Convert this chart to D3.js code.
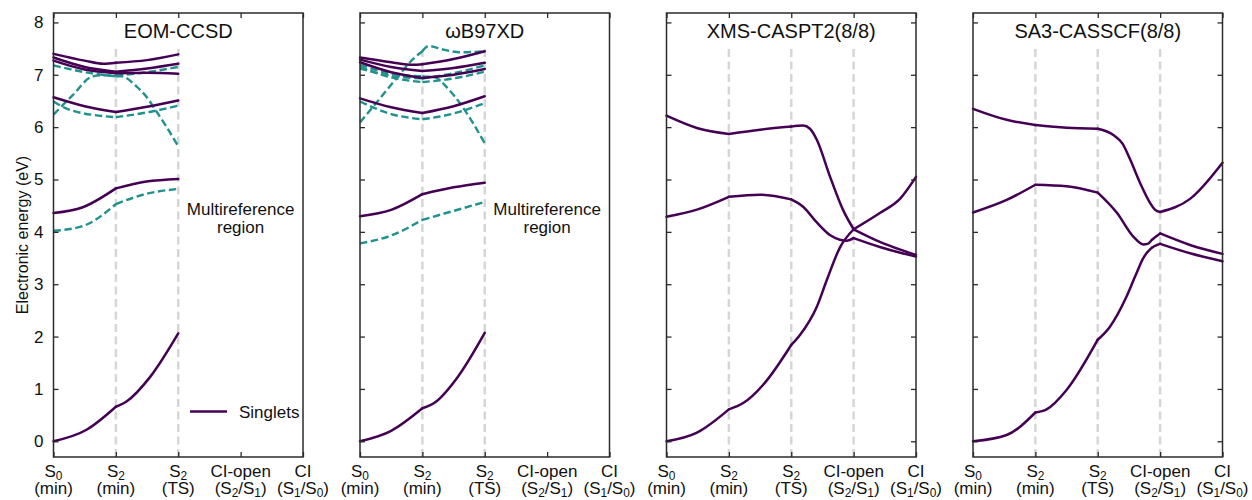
<!DOCTYPE html>
<html>
<head>
<meta charset="utf-8">
<script src="https://cdn.jsdelivr.net/npm/d3@7"></script>
<style>
  html, body { margin: 0; padding: 0; background: #fff; }
  svg { display: block; font-family: "Liberation Sans", Arial, Helvetica, sans-serif; }
</style>
</head>
<body>
<svg id="chart" width="1252" height="500"></svg>
<script>
// Reaction-path stops along the horizontal axis (two-line labels, "_n" = subscript)
const stopLabels = [
  ["S_0", "(min)"],
  ["S_2", "(min)"],
  ["S_2", "(TS)"],
  ["CI-open", "(S_2/S_1)"],
  ["CI", "(S_1/S_0)"]
];
const energyTicks = [0, 1, 2, 3, 4, 5, 6, 7, 8];
const methods = ["EOM-CCSD", "ωB97XD", "XMS-CASPT2(8/8)", "SA3-CASSCF(8/8)"];

// Singlet (solid) and triplet (dashed) energies, [path coordinate, eV]
const eomSinglets = [
  [[0,0],[0.53,0.22],[1,0.66],[1.17,0.76],[1.55,1.23],[2,2.06]],
  [[0,4.36],[0.47,4.47],[1,4.83],[1.49,4.96],[2,5.01]],
  [[0,6.57],[0.5,6.40],[1,6.29],[1.5,6.39],[2,6.51]],
  [[0,7.27],[0.5,7.10],[1,7.03],[1.5,7.04],[2,7.02]],
  [[0,7.33],[0.5,7.15],[1,7.06],[1.5,7.12],[2,7.21]],
  [[0,7.40],[0.5,7.27],[0.8,7.21],[1,7.23],[1.5,7.28],[2,7.39]]
];
const eomTriplets = [
  [[0,4.02],[0.47,4.11],[1,4.53],[1.5,4.73],[2,4.82]],
  [[0,6.49],[0.26,6.33],[1,6.19],[1.54,6.29],[2,6.41]],
  [[0,6.24],[0.3,6.6],[0.63,6.97],[0.8,6.99],[1,6.98],[1.5,7.05],[2,7.15]],
  [[0,7.18],[0.5,7.05],[1,6.97],[1.09,6.97],[1.33,6.78],[1.49,6.58],[1.65,6.30],[1.81,6.01],[2,5.63]]
];

const wbSinglets = [
  [[0,0],[0.5,0.2],[1,0.63],[1.2,0.74],[1.55,1.2],[2,2.07]],
  [[0,4.30],[0.5,4.42],[1,4.72],[1.5,4.85],[2,4.94]],
  [[0,6.55],[0.5,6.38],[1,6.27],[1.5,6.40],[2,6.59]],
  [[0,7.24],[0.5,7.05],[1,6.94],[1.5,7.00],[2,7.11]],
  [[0,7.29],[0.5,7.15],[1,7.07],[1.5,7.13],[2,7.23]],
  [[0,7.33],[0.5,7.24],[0.85,7.19],[1,7.20],[1.5,7.30],[2,7.45]]
];
const wbTriplets = [
  [[0,3.78],[0.5,3.93],[1,4.23],[1.5,4.40],[2,4.57]],
  [[0,6.49],[0.5,6.25],[1,6.15],[1.5,6.26],[2,6.46]],
  [[0,6.09],[0.3,6.52],[0.59,6.94],[0.85,7.3],[1,7.45],[1.1,7.55],[1.34,7.48],[1.6,7.43],[2,7.45]],
  [[0,7.19],[0.5,7.02],[1,6.97],[1.2,6.95],[1.4,6.75],[1.6,6.46],[1.8,6.1],[2,5.69]],
  [[0,7.15],[0.5,6.95],[1,6.86],[1.5,6.93],[2,7.06]],
  [[0,7.12],[0.5,6.98],[1,6.93],[1.5,7.03],[2,7.18]]
];

const casptSinglets = [
  [[0,0],[0.48,0.16],[1,0.61],[1.23,0.73],[1.55,1.08],[2,1.84],[2.14,2.03],[2.41,2.57],[2.57,3.08],[2.78,3.70],[3,4.05],[3.42,3.81],[3.75,3.66],[4,3.56]],
  [[0,4.29],[0.5,4.43],[1,4.67],[1.5,4.71],[2,4.62],[2.19,4.48],[2.41,4.18],[2.62,3.94],[2.78,3.85],[2.89,3.83],[3,3.88],[3.42,3.71],[3.75,3.60],[4,3.53]],
  [[0,6.22],[0.5,5.98],[1,5.87],[1.5,5.95],[2,6.01],[2.19,6.03],[2.3,5.97],[2.41,5.76],[2.62,5.06],[2.83,4.42],[3,4.05],[3.42,4.36],[3.75,4.64],[4,5.05]]
];

const casscfSinglets = [
  [[0,0],[0.54,0.12],[1,0.55],[1.18,0.61],[1.5,0.98],[2,1.94],[2.19,2.18],[2.46,2.76],[2.6,3.15],[2.73,3.50],[2.85,3.68],[3,3.77],[3.48,3.59],[4,3.44]],
  [[0,4.37],[0.54,4.61],[1,4.90],[1.5,4.87],[2,4.75],[2.31,4.36],[2.57,3.91],[2.73,3.76],[2.8,3.77],[2.87,3.85],[3,3.97],[3.48,3.75],[4,3.58]],
  [[0,6.35],[0.54,6.14],[1,6.04],[1.5,5.99],[2,5.97],[2.25,5.85],[2.4,5.68],[2.52,5.38],[2.68,4.93],[2.84,4.55],[2.92,4.42],[3,4.38],[3.48,4.63],[4,5.32]]
];

const panelSinglets = [eomSinglets, wbSinglets, casptSinglets, casscfSinglets];
const panelTriplets = [eomTriplets, wbTriplets, [], []];
const panelGuides = [[1, 2], [1, 2], [1, 2, 3], [1, 2, 3]];
const singleRefPanels = [0, 1];

const purple = "#440154";
const teal = "#21918c";
const frameColor = "#2b2b2b";

const svg = d3.select("#chart");
const panelLeft = [53.5, 360, 666.5, 973];
const panelW = 249.5;
const plotTop = 13, plotBottom = 457;

const y = d3.scaleLinear().domain([-0.3, 8.18]).range([plotBottom, plotTop]);

// Append one line of a label; "_n" becomes a lowered, smaller digit
function richLine(textSel, str, size, xPos, yPos) {
  const parts = str.split(/(_\d)/).filter(p => p.length);
  let lowered = false;
  parts.forEach((p, idx) => {
    let t;
    if (p[0] === "_") {
      t = textSel.append("tspan").attr("font-size", size * 0.7).attr("dy", 3).text(p[1]);
      lowered = true;
    } else {
      t = textSel.append("tspan").text(p);
      if (lowered) { t.attr("dy", -3); lowered = false; }
    }
    if (idx === 0) t.attr("x", xPos).attr("y", yPos);
  });
}

// Split a curve at integer stops so kinks at the stationary points are kept
function segments(pts) {
  const segs = [];
  const maxStop = Math.ceil(pts[pts.length - 1][0]);
  for (let k = 0; k < maxStop; k++) {
    const s = pts.filter(p => p[0] >= k && p[0] <= k + 1);
    if (s.length > 1) segs.push(s);
  }
  return segs;
}

methods.forEach((name, i) => {
  const x0 = panelLeft[i];
  const x = d3.scaleLinear().domain([0, 4]).range([x0, x0 + panelW]);
  const g = svg.append("g");

  // light dashed guides at the intermediate stops
  g.selectAll(".guide").data(panelGuides[i]).join("line")
    .attr("x1", d => x(d)).attr("x2", d => x(d))
    .attr("y1", y(-0.3)).attr("y2", y(7.5))
    .attr("stroke", "#d6d6d6").attr("stroke-width", 2.5)
    .attr("stroke-dasharray", "8,4.5");

  const line = d3.line().x(d => x(d[0])).y(d => y(d[1])).curve(d3.curveMonotoneX);

  // triplets (dashed teal) under singlets (solid purple)
  panelTriplets[i].forEach(c => {
    g.append("path")
      .attr("d", segments(c).map(s => line(s)).join(""))
      .attr("fill", "none").attr("stroke", teal).attr("stroke-width", 2.4)
      .attr("stroke-dasharray", "7.4,3.6");
  });
  panelSinglets[i].forEach(c => {
    segments(c).forEach(s => {
      g.append("path").attr("d", line(s))
        .attr("fill", "none").attr("stroke", purple).attr("stroke-width", 2.5)
        .attr("stroke-linecap", "round").attr("stroke-linejoin", "round");
    });
  });

  // axes with inward ticks
  const yLeft = d3.axisLeft(y).tickValues(energyTicks).tickSizeInner(-5).tickSizeOuter(0).tickPadding(10)
    .tickFormat(i === 0 ? d3.format("d") : () => "");
  const ax = g.append("g").attr("transform", `translate(${x0},0)`).call(yLeft);
  ax.select(".domain").remove();
  ax.selectAll(".tick line").attr("stroke", frameColor).attr("stroke-width", 1.3);
  ax.selectAll(".tick text").attr("font-size", 17).attr("fill", "#111")
    .attr("font-family", "'Liberation Sans', Arial, sans-serif");

  if (i >= 2) {
    const ar = g.append("g").attr("transform", `translate(${x0 + panelW},0)`)
      .call(d3.axisRight(y).tickValues(energyTicks).tickSizeInner(-5).tickSizeOuter(0).tickFormat(() => ""));
    ar.select(".domain").remove();
    ar.selectAll(".tick line").attr("stroke", frameColor).attr("stroke-width", 1.3);
  }

  const stops = d3.range(stopLabels.length);
  const at = g.append("g").attr("transform", `translate(0,${plotTop})`)
    .call(d3.axisTop(x).tickValues(stops).tickSizeInner(-5).tickSizeOuter(0).tickFormat(() => ""));
  at.select(".domain").remove();
  at.selectAll(".tick line").attr("stroke", frameColor).attr("stroke-width", 1.3);

  const ab = g.append("g").attr("transform", `translate(0,${plotBottom})`)
    .call(d3.axisBottom(x).tickValues(stops).tickSizeInner(-5).tickSizeOuter(0).tickFormat(() => ""));
  ab.select(".domain").remove();
  ab.selectAll(".tick line").attr("stroke", frameColor).attr("stroke-width", 1.3);

  // two-line stop labels, one text element per stop
  stopLabels.forEach((lab, k) => {
    const t = g.append("text").attr("text-anchor", "middle").attr("font-size", 17).attr("fill", "#111");
    lab.forEach((ln, j) => richLine(t, ln, 17, x(k), 477 + j * 17));
  });

  // frame
  g.append("rect").attr("x", x0).attr("y", plotTop).attr("width", panelW).attr("height", plotBottom - plotTop)
    .attr("fill", "none").attr("stroke", frameColor).attr("stroke-width", 1.5);

  // method title
  g.append("text").attr("x", x(2)).attr("y", 38).attr("text-anchor", "middle")
    .attr("font-size", 20).attr("fill", "#111").text(name);

  if (singleRefPanels.includes(i)) {
    const t = g.append("text").attr("text-anchor", "middle").attr("font-size", 17).attr("fill", "#111");
    t.append("tspan").attr("x", x(3)).attr("y", 215).text("Multireference");
    t.append("tspan").attr("x", x(3)).attr("y", 233).text("region");
  }

  if (i === 0) {
    g.append("line").attr("x1", 190).attr("x2", 227).attr("y1", 411.5).attr("y2", 411.5)
      .attr("stroke", purple).attr("stroke-width", 2.5);
    g.append("text").attr("x", 239).attr("y", 417.5).attr("font-size", 17).attr("fill", "#111").text("Singlets");
  }
});

svg.append("text")
  .attr("transform", `translate(28,${(plotTop + plotBottom) / 2}) rotate(-90)`)
  .attr("text-anchor", "middle").attr("font-size", 16).attr("fill", "#111")
  .text("Electronic energy (eV)");
</script>
</body>
</html>
